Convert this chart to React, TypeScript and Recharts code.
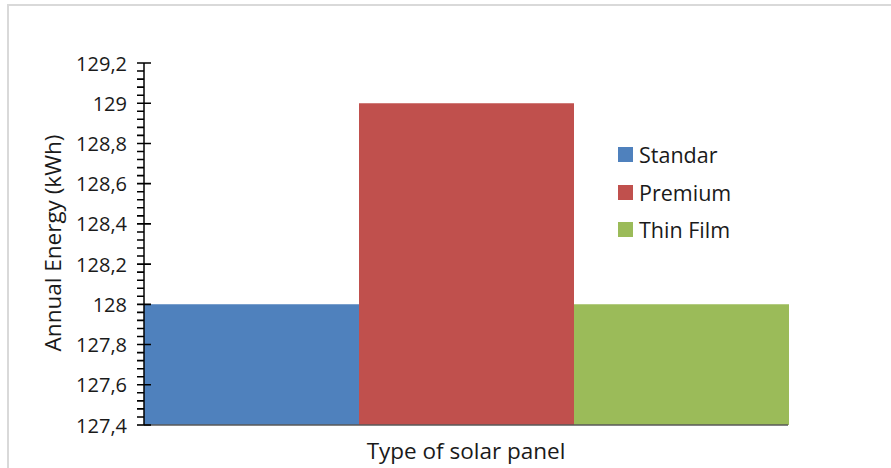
import React from 'react';
import { BarChart, Bar, XAxis, YAxis, Legend } from 'recharts';

const CATEGORIES = ['Type of solar panel'];
const SERIES = ['Standar', 'Premium', 'Thin Film'];
const VALUES = [128, 129, 128];
const COLORS = ['#4f81bd', '#c0504d', '#9bbb59'];
const MAJOR_TICKS = [127.4, 127.6, 127.8, 128, 128.2, 128.4, 128.6, 128.8, 129, 129.2];
const MINOR_PER_MAJOR = 5;

const FONT = '"Open Sans", "Noto Sans", sans-serif';
const TEXT_COLOR = '#1a1a1a';

const CHART_W = 891;
const CHART_H = 468;
const MARGIN = { top: 63, right: 103, left: 0, bottom: 0 };
const X_AXIS_HEIGHT = 43;
const Y_AXIS_WIDTH = 144;
const PLOT_H = CHART_H - MARGIN.top - MARGIN.bottom - X_AXIS_HEIGHT;

// one category, three series side by side
const chartData = CATEGORIES.map(name => {
  const item: Record<string, any> = { name };
  SERIES.forEach((s, i) => {
    item[s] = VALUES[i];
  });
  return item;
});

const fmt = (v: number) => String(Number(v.toFixed(1))).replace('.', ',');

// major tick crosses the axis; 4 short minor ticks below each major, as one path
const YTick = (props: any) => {
  const x = Number(props.x);
  const y = Number(props.y);
  const value = Number(props.payload?.value);
  const gap = PLOT_H / ((MAJOR_TICKS.length - 1) * MINOR_PER_MAJOR);
  const isBottom = Math.abs(value - MAJOR_TICKS[0]) < 1e-6;
  let d = `M${x - 7},${y}H${x + 7}`;
  if (!isBottom) {
    for (let k = 1; k < MINOR_PER_MAJOR; k++) {
      d += `M${x - 7},${(y + gap * k).toFixed(2)}H${x}`;
    }
  }
  return (
    <g>
      <path d={d} stroke="#000" strokeWidth={1.6} fill="none" />
      <text
        x={x - 17}
        y={y}
        textAnchor="end"
        dominantBaseline="central"
        fontSize={20}
        fontFamily={FONT}
        fill={TEXT_COLOR}
      >
        {fmt(value)}
      </text>
    </g>
  );
};

const renderLegend = (props: any) => {
  const payload = [...(props.payload || [])].sort(
    (a: any, b: any) => SERIES.indexOf(a.value) - SERIES.indexOf(b.value)
  );
  return (
    <div style={{ fontFamily: FONT, fontSize: 21.5, color: TEXT_COLOR }}>
      {payload.map((entry: any) => (
        <div key={entry.value} style={{ display: 'flex', alignItems: 'center', height: 37.5 }}>
          <span style={{ width: 15, height: 15, background: entry.color, marginRight: 6, display: 'inline-block' }} />
          <span>{entry.value}</span>
        </div>
      ))}
    </div>
  );
};

export default function App() {
  return (
    <div style={{ position: 'absolute', left: 0, top: 0, width: CHART_W, height: CHART_H, overflow: 'hidden', background: '#fff' }}>
      <div
        style={{
          position: 'absolute',
          left: 7,
          top: 4,
          width: 1000,
          height: 1000,
          border: '2px solid #d9d9d9',
        }}
      />
      <div style={{ position: 'absolute', left: 0, top: 0 }}>
        <BarChart
          width={CHART_W}
          height={CHART_H}
          data={chartData}
          margin={MARGIN}
          barCategoryGap={0}
          barGap={0}
        >
          <XAxis
            dataKey="name"
            height={X_AXIS_HEIGHT}
            tick={false}
            tickLine={false}
            axisLine={{ stroke: '#595959', strokeWidth: 1.5 }}
            label={{
              content: ({ viewBox }: any) => (
                <text
                  x={viewBox.x + viewBox.width / 2}
                  y={viewBox.y + 25}
                  textAnchor="middle"
                  dominantBaseline="central"
                  fontSize={22.5}
                  fontFamily={FONT}
                  fill={TEXT_COLOR}
                >
                  {CATEGORIES[0]}
                </text>
              ),
            }}
          />
          <XAxis
            xAxisId="top"
            dataKey="name"
            orientation="top"
            height={0}
            tick={false}
            tickLine={false}
            axisLine={{ stroke: '#000', strokeWidth: 1.5 }}
          />
          <YAxis
            width={Y_AXIS_WIDTH}
            domain={[127.4, 129.2]}
            allowDataOverflow
            ticks={MAJOR_TICKS}
            interval={0}
            tickSize={0}
            tickMargin={0}
            tickLine={false}
            tick={<YTick />}
            axisLine={{ stroke: '#000', strokeWidth: 1.5 }}
            label={{
              content: ({ viewBox }: any) => {
                const cx = viewBox.x + 52;
                const cy = viewBox.y + viewBox.height / 2 - 1;
                return (
                  <text
                    x={cx}
                    y={cy}
                    transform={`rotate(-90 ${cx} ${cy})`}
                    textAnchor="middle"
                    dominantBaseline="central"
                    fontSize={22.5}
                    fontFamily={FONT}
                    fill={TEXT_COLOR}
                  >
                    Annual Energy (kWh)
                  </text>
                );
              },
            }}
          />
          <YAxis
            yAxisId="right"
            orientation="right"
            width={0}
            domain={[127.4, 129.2]}
            tick={false}
            tickLine={false}
            axisLine={{ stroke: '#262626', strokeWidth: 1.5 }}
          />
          <Legend
            layout="vertical"
            align="center"
            verticalAlign="middle"
            content={renderLegend}
            wrapperStyle={{ left: 618, top: 136, width: 160 }}
          />
          {SERIES.map((s, i) => (
            <Bar key={s} dataKey={s} name={s} fill={COLORS[i]} isAnimationActive={false} />
          ))}
        </BarChart>
      </div>
    </div>
  );
}
